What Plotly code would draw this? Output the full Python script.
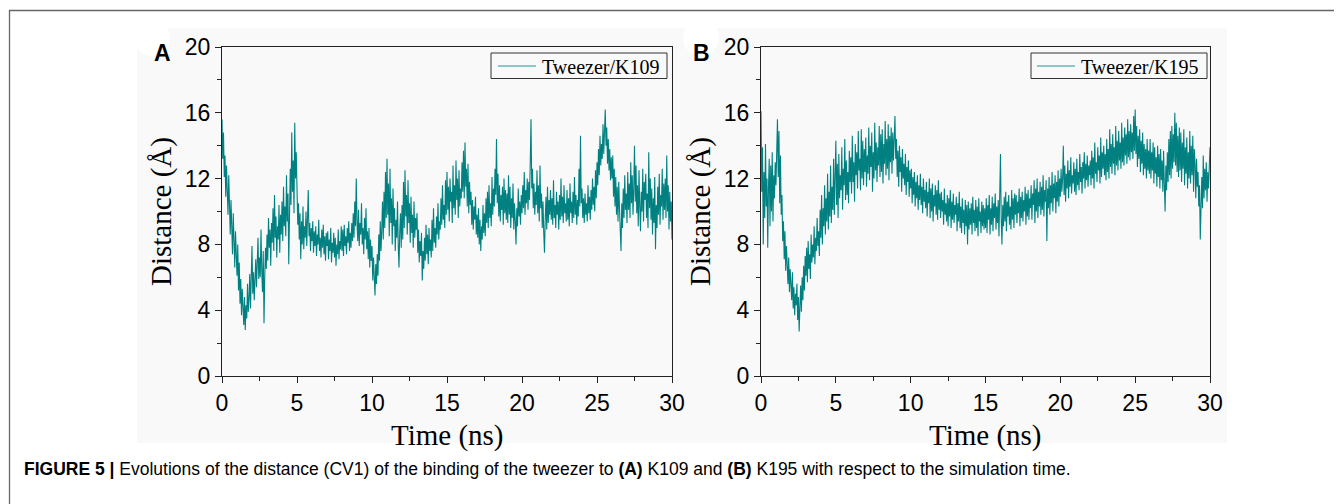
import plotly.graph_objects as go

W, H = 1342, 504
OFF = 8  # page body margin of the html page

# ---- data (0.05 ns steps, 0..30 ns) ----
dist_k109 = [
    15.6, 13.2, 14.8, 12.1, 13.4, 10.9, 12.8, 11.4, 9.8, 12.2, 10.1, 8.6, 10.7, 9.2, 7.4, 9.9, 8.1, 6.6, 8.8, 7.2,
    6.1, 8.0, 5.2, 6.9, 4.4, 5.9, 3.7, 5.3, 4.2, 3.1, 4.8, 2.8, 4.3, 3.5, 5.6, 3.9, 4.7, 6.2, 4.1, 5.4,
    7.9, 5.0, 6.3, 4.6, 5.8, 7.1, 5.4, 6.6, 8.4, 5.9, 7.2, 6.0, 8.9, 6.4, 5.1, 7.6, 3.2, 6.0, 7.8, 6.5,
    8.6, 7.0, 9.6, 7.8, 8.9, 6.7, 9.3, 8.1, 10.2, 7.6, 11.0, 8.4, 9.7, 7.2, 9.1, 8.3, 10.4, 7.5, 9.8, 8.6,
    10.6, 8.2, 11.5, 9.1, 10.3, 8.5, 12.2, 9.4, 11.1, 6.8, 9.7, 12.6, 10.4, 14.8, 11.2, 13.1, 9.9, 15.4, 12.0, 13.6,
    11.4, 9.2, 10.5, 8.3, 9.9, 7.1, 9.4, 8.0, 10.3, 7.7, 9.1, 8.4, 10.0, 7.9, 9.6, 11.3, 8.5, 9.3, 7.6, 9.0,
    8.2, 9.4, 7.5, 8.8, 7.9, 9.1, 7.3, 8.6, 8.0, 9.5, 7.6, 8.4, 7.2, 8.9, 7.8, 9.2, 7.4, 8.5, 7.0, 8.7,
    7.9, 8.8, 7.1, 8.3, 7.6, 9.0, 6.9, 8.1, 7.5, 8.7, 7.2, 8.4, 6.7, 8.0, 7.4, 8.9, 7.1, 8.2, 7.7, 9.1,
    7.6, 8.9, 7.3, 9.2, 7.9, 8.5, 7.4, 9.0, 8.1, 9.4, 7.6, 8.7, 7.8, 9.3, 8.2, 9.9, 8.4, 10.6, 9.1, 12.0,
    9.4, 8.2, 10.1, 7.9, 9.3, 8.6, 10.5, 8.0, 9.0, 7.4, 9.6, 8.3, 10.2, 7.7, 8.8, 7.1, 9.0, 6.6, 8.3, 7.0,
    7.9, 5.8, 7.2, 6.3, 4.9, 6.8, 5.6, 7.4, 6.1, 8.6, 7.0, 9.4, 7.6, 8.9, 10.6, 8.3, 11.2, 9.0, 12.4, 9.6,
    13.2, 9.8, 11.7, 8.5, 12.6, 9.3, 10.8, 8.0, 11.4, 9.1, 10.2, 7.6, 9.5, 8.4, 10.6, 7.9, 6.6, 8.8, 9.9, 7.8,
    10.4, 8.3, 11.8, 9.0, 12.5, 9.7, 11.0, 8.6, 11.9, 9.3, 10.5, 8.1, 10.9, 8.7, 9.8, 7.8, 10.6, 8.4, 9.6, 8.9,
    9.9, 7.5, 8.9, 6.9, 8.2, 7.3, 8.7, 5.8, 7.6, 6.5, 8.4, 7.0, 9.2, 7.4, 8.6, 6.8, 9.0, 7.6, 8.3, 7.2,
    9.5, 7.6, 10.2, 8.1, 9.0, 7.8, 9.7, 8.6, 10.5, 8.3, 9.4, 8.9, 10.8, 9.2, 11.6, 9.5, 10.4, 9.0, 11.9, 9.8,
    12.4, 10.1, 11.5, 9.4, 12.0, 10.6, 11.2, 9.3, 12.8, 10.2, 11.6, 9.8, 13.1, 10.7, 12.0, 9.6, 12.5, 10.3, 11.4, 10.8,
    13.0, 11.2, 13.7, 10.8, 14.2, 11.5, 12.6, 10.3, 12.9, 9.9, 11.8, 10.4, 11.2, 9.2, 10.7, 8.9, 10.3, 9.5, 10.9, 8.6,
    9.8, 8.4, 10.2, 8.0, 9.5, 7.6, 9.1, 8.3, 10.4, 8.7, 9.9, 8.5, 10.8, 9.3, 11.2, 9.0, 11.6, 9.6, 10.5, 9.1,
    12.1, 9.8, 11.4, 10.3, 12.6, 11.0, 14.4, 10.5, 12.3, 9.7, 11.6, 9.4, 11.0, 10.1, 11.5, 9.2, 12.0, 9.9, 11.3, 9.5,
    11.1, 9.3, 12.2, 9.8, 11.5, 9.0, 10.8, 9.6, 11.7, 8.9, 10.5, 9.4, 8.0, 10.2, 9.1, 11.4, 9.7, 10.6, 9.2, 11.0,
    9.9, 11.6, 10.2, 12.4, 9.8, 11.3, 10.5, 12.0, 10.1, 11.8, 10.7, 13.0, 15.6, 11.4, 12.6, 10.2, 11.7, 9.8, 11.2, 10.4,
    12.5, 9.9, 11.6, 9.4, 12.8, 10.2, 11.1, 9.0, 10.6, 8.7, 7.5, 9.6, 10.9, 8.9, 11.5, 9.3, 10.7, 9.8, 11.3, 9.5,
    10.8, 9.2, 11.9, 9.6, 10.4, 9.0, 11.2, 9.8, 10.6, 8.9, 11.0, 9.5, 12.0, 9.7, 10.9, 9.3, 11.6, 9.9, 10.5, 9.4,
    11.3, 9.5, 10.8, 9.1, 11.7, 9.9, 10.6, 9.3, 11.2, 9.6, 12.1, 9.8, 11.0, 9.2, 10.7, 9.7, 12.6, 10.3, 14.6, 10.5,
    11.4, 9.6, 10.8, 9.3, 11.1, 9.8, 10.5, 9.4, 11.6, 9.9, 10.9, 9.5, 11.3, 10.1, 12.0, 10.4, 11.5, 10.0, 12.5, 10.8,
    13.0, 11.6, 13.8, 12.2, 14.6, 12.8, 14.1, 13.2, 15.3, 13.5, 14.7, 16.2, 14.0, 15.1, 12.9, 14.4, 12.5, 13.8, 11.9, 13.3,
    12.0, 13.4, 10.9, 12.6, 10.3, 12.1, 9.8, 11.5, 9.4, 11.8, 10.2, 8.6, 7.6, 10.5, 9.0, 11.4, 9.6, 12.2, 10.1, 11.1,
    9.3, 12.4, 10.1, 11.7, 9.6, 13.0, 10.5, 12.2, 9.8, 11.4, 14.0, 10.6, 12.8, 9.9, 11.6, 9.1, 12.5, 10.3, 8.8, 11.2,
    10.0, 12.6, 9.4, 11.8, 10.7, 12.3, 9.6, 11.1, 9.0, 13.6, 10.2, 12.0, 9.5, 11.4, 8.6, 10.8, 9.3, 12.1, 7.7, 10.4,
    9.0, 11.5, 9.8, 12.3, 9.2, 11.0, 10.3, 12.6, 9.5, 11.7, 10.1, 12.0, 9.6, 13.4, 10.0, 11.6, 8.9, 11.2, 9.4, 10.6,
    8.3,
]

dist_k195 = [
    16.1, 11.2, 13.9, 8.0, 12.4, 9.6, 14.1, 10.3, 12.0, 7.8, 11.5, 13.2, 9.1, 12.8, 10.0, 13.6, 9.4, 12.2, 10.8, 13.0,
    11.6, 14.3, 15.6, 12.1, 14.9, 10.5, 13.4, 9.8, 11.0, 8.2, 9.4, 7.1, 8.8, 6.4, 7.9, 6.8, 5.6, 7.2, 5.1, 6.5,
    5.8, 4.6, 6.3, 4.1, 5.4, 3.7, 5.0, 4.3, 5.6, 3.4, 4.8, 2.7, 4.2, 5.5, 3.9, 6.0, 4.6, 6.7, 5.2, 7.3,
    6.1, 7.8, 5.7, 8.2, 6.5, 7.4, 5.9, 8.6, 6.9, 8.0, 7.2, 9.1, 6.8, 8.4, 7.6, 9.6, 7.9, 8.8, 7.3, 10.1,
    8.4, 11.0, 8.0, 10.2, 9.1, 11.6, 8.6, 10.8, 9.4, 12.3, 8.9, 11.2, 9.7, 12.8, 9.3, 11.5, 10.1, 13.2, 9.8, 12.4,
    14.3, 10.4, 12.9, 9.6, 13.5, 10.8, 12.2, 11.3, 13.9, 10.1, 12.6, 11.6, 14.4, 10.7, 13.1, 11.0, 12.4, 10.5, 13.7, 11.8,
    13.3, 11.1, 14.6, 11.8, 13.0, 10.6, 14.1, 12.2, 13.6, 11.4, 14.9, 12.5, 13.2, 11.3, 15.0, 12.0, 14.3, 11.6, 13.8, 12.4,
    14.5, 11.5, 13.4, 12.3, 15.1, 11.9, 14.0, 12.7, 14.8, 11.2, 13.6, 12.0, 15.4, 12.5, 14.2, 11.8, 13.9, 12.8, 15.2, 12.1,
    14.7, 12.4, 15.0, 11.7, 14.1, 12.9, 15.5, 12.2, 14.4, 12.6, 15.3, 11.9, 14.6, 13.0, 15.1, 12.3, 14.8, 13.1, 15.4, 15.8,
    13.2, 14.4, 12.1, 13.7, 11.5, 14.0, 12.4, 13.3, 11.2, 13.8, 12.0, 12.9, 11.6, 13.5, 11.0, 12.7, 11.8, 13.1, 10.9, 12.5,
    11.4, 12.6, 10.5, 12.1, 11.0, 12.4, 10.3, 11.8, 10.8, 12.2, 10.1, 11.6, 10.7, 12.3, 10.4, 11.5, 9.9, 12.0, 10.6, 11.3,
    10.2, 11.8, 9.7, 11.2, 10.5, 12.0, 9.6, 11.4, 10.0, 11.7, 9.4, 11.0, 10.3, 11.6, 9.8, 11.3, 9.5, 11.9, 10.1, 11.1,
    9.6, 11.2, 10.0, 10.7, 9.2, 11.4, 9.8, 10.5, 9.4, 11.0, 9.1, 10.8, 9.7, 11.3, 9.0, 10.6, 9.5, 11.1, 9.3, 10.4,
    9.8, 10.9, 8.8, 10.5, 9.4, 11.2, 9.0, 10.3, 8.7, 10.8, 9.3, 10.1, 8.6, 10.7, 9.1, 10.4, 8.0, 10.6, 8.9, 10.2,
    9.2, 10.5, 8.6, 10.9, 9.3, 10.1, 8.8, 10.7, 9.0, 10.3, 8.5, 10.8, 9.4, 10.0, 8.7, 10.6, 9.1, 10.4, 8.9, 10.2,
    9.0, 10.8, 8.7, 10.4, 9.5, 11.0, 8.6, 10.2, 9.2, 10.9, 8.8, 10.5, 9.6, 11.1, 8.9, 10.3, 9.3, 10.7, 8.5, 10.6,
    13.5, 9.6, 8.0, 10.4, 9.1, 10.9, 9.4, 11.2, 8.8, 10.6, 9.7, 11.0, 9.2, 10.3, 8.9, 11.3, 9.5, 10.8, 9.0, 11.1,
    9.8, 11.0, 9.3, 10.6, 9.9, 11.4, 9.1, 10.9, 9.6, 11.2, 9.4, 10.7, 10.0, 11.5, 9.2, 11.1, 9.7, 11.3, 9.5, 10.8,
    10.2, 11.6, 9.5, 11.1, 10.4, 11.9, 9.3, 11.4, 10.0, 12.0, 9.6, 11.2, 10.3, 11.8, 9.8, 11.5, 10.1, 12.2, 9.7, 11.3,
    10.6, 11.9, 8.2, 11.4, 10.2, 12.1, 9.8, 11.6, 10.5, 12.4, 10.0, 11.7, 10.8, 12.2, 9.9, 11.8, 10.6, 12.5, 10.3, 12.0,
    10.9, 12.6, 11.2, 12.0, 14.0, 11.0, 12.8, 10.6, 12.3, 11.4, 13.1, 10.8, 12.5, 11.5, 13.3, 11.1, 12.2, 11.7, 13.0, 11.2,
    12.6, 11.0, 13.2, 11.6, 12.4, 11.3, 13.5, 11.8, 12.7, 11.1, 13.0, 12.0, 13.6, 11.4, 12.9, 11.9, 13.4, 11.5, 12.8, 12.2,
    13.1, 11.6, 13.7, 12.0, 13.3, 11.4, 14.2, 12.3, 13.0, 11.8, 13.9, 12.5, 13.4, 11.7, 14.5, 12.1, 13.6, 12.6, 14.0, 12.2,
    13.5, 11.9, 14.4, 12.4, 13.8, 12.0, 15.0, 12.7, 14.1, 12.3, 14.7, 12.9, 13.9, 12.2, 15.2, 12.8, 14.3, 12.5, 14.9, 13.1,
    14.2, 12.6, 15.4, 13.0, 14.5, 12.8, 15.1, 13.4, 14.7, 12.9, 15.6, 13.3, 14.9, 13.1, 15.3, 13.6, 14.8, 13.2, 15.8, 13.7,
    16.2, 13.5, 15.2, 12.7, 14.6, 13.2, 15.0, 12.4, 14.3, 12.9, 14.8, 12.2, 14.1, 12.6, 13.8, 12.0, 14.4, 12.5, 13.7, 12.3,
    14.4, 12.0, 13.6, 12.5, 14.2, 11.7, 13.9, 12.3, 13.3, 11.5, 14.0, 12.1, 13.5, 11.4, 13.8, 11.9, 13.1, 11.2, 13.7, 11.6,
    10.0, 12.8, 11.3, 13.6, 11.8, 14.4, 12.2, 14.9, 12.0, 15.2, 12.6, 14.7, 13.0, 16.0, 12.8, 15.4, 12.4, 14.6, 12.1, 15.1,
    12.5, 14.8, 11.8, 14.2, 12.6, 15.0, 11.6, 13.9, 12.3, 14.5, 11.4, 13.6, 12.0, 14.9, 11.7, 14.0, 12.2, 14.6, 11.2, 13.8,
    12.9, 10.8, 13.2, 11.5, 12.4, 10.3, 11.6, 8.3, 11.0, 12.1, 10.2, 13.4, 10.8, 12.6, 11.3, 13.0, 10.6, 12.4, 11.4, 13.6,
    13.9,
]

time_k109 = [30 * i / (len(dist_k109) - 1) for i in range(len(dist_k109))]
time_k195 = [30 * i / (len(dist_k195) - 1) for i in range(len(dist_k195))]

series_names = ["Tweezer/K109", "Tweezer/K195"]
x_ticks = [0, 5, 10, 15, 20, 25, 30]
y_ticks = [0, 4, 8, 12, 16, 20]
panel_labels = ["A", "B"]

LINE = "#008080"
BG = "#f9f9f9"


def px(x):
    return (x - OFF) / W


def py(y):
    return 1 - (y - OFF) / H


fig = go.Figure()
fig.add_trace(go.Scatter(x=time_k109, y=dist_k109, mode="lines", name=series_names[0],
                         line=dict(color=LINE, width=1.1), xaxis="x", yaxis="y"))
fig.add_trace(go.Scatter(x=time_k195, y=dist_k195, mode="lines", name=series_names[1],
                         line=dict(color=LINE, width=1.1), xaxis="x2", yaxis="y2"))

tickfont = dict(family="Liberation Sans, Arial", size=23, color="black")
titlefont = dict(family="Liberation Serif, Times New Roman", size=29, color="black")

def xax(domain, anchor):
    return dict(domain=domain, anchor=anchor, range=[0, 30], tickvals=x_ticks, automargin=False,
                showline=True, linecolor="#222", linewidth=1.2, mirror=True,
                ticks="outside", ticklen=6, tickcolor="#222", showgrid=False, zeroline=False,
                minor=dict(ticks="outside", ticklen=4, dtick=2.5, tick0=0, tickcolor="#222", showgrid=False),
                tickfont=tickfont)

def yax(domain, anchor):
    return dict(domain=domain, anchor=anchor, range=[0, 20], tickvals=y_ticks, automargin=False,
                showline=True, linecolor="#222", linewidth=1.2, mirror=True,
                ticks="outside", ticklen=6, tickcolor="#222", showgrid=False, zeroline=False,
                minor=dict(ticks="outside", ticklen=4, dtick=2, tick0=0, tickcolor="#222", showgrid=False),
                tickfont=tickfont,
                title=dict(text="Distance (Å)", font=titlefont, standoff=4))

ydom = [py(376), py(47)]

fig.update_layout(
    width=W, height=H, margin=dict(l=0, r=0, t=0, b=0, pad=0, autoexpand=False),
    paper_bgcolor="white", plot_bgcolor=BG, showlegend=False,
    xaxis=xax([px(222), px(672)], "y"),
    yaxis=yax(ydom, "x"),
    xaxis2=xax([px(761), px(1210)], "y2"),
    yaxis2=yax(ydom, "x2"),
)

# legend boxes (box, sample line, text) per panel: [box_x0, box_x1, line_x0, line_x1, text_x0]
legend_geo = [(491, 667, 498, 536, 540), (1031, 1207, 1037, 1075, 1079)]

shapes = [
    dict(type="rect", xref="paper", yref="paper", x0=px(137), x1=px(1227), y0=py(443), y1=py(28),
         fillcolor=BG, line=dict(width=0), layer="below"),
    dict(type="circle", xref="paper", yref="paper", x0=px(134), x1=px(170), y0=py(56), y1=py(20),
         fillcolor="white", line=dict(width=0), layer="below"),
    dict(type="circle", xref="paper", yref="paper", x0=px(683), x1=px(719), y0=py(56), y1=py(20),
         fillcolor="white", line=dict(width=0), layer="below"),
    dict(type="line", xref="paper", yref="paper", x0=px(9), x1=1, y0=py(10.5), y1=py(10.5),
         line=dict(color="#666", width=1.3)),
    dict(type="line", xref="paper", yref="paper", x0=px(9.5), x1=px(9.5), y0=py(10), y1=0,
         line=dict(color="#666", width=1.3)),
]
annotations = []
for (bx0, bx1, lx0, lx1, tx0), name in zip(legend_geo, series_names):
    shapes.append(dict(type="rect", xref="paper", yref="paper", x0=px(bx0), x1=px(bx1),
                       y0=py(78.5), y1=py(53), fillcolor=BG, line=dict(color="#333", width=1)))
    shapes.append(dict(type="line", xref="paper", yref="paper", x0=px(lx0), x1=px(lx1),
                       y0=py(66), y1=py(66), line=dict(color="#1a9a98", width=1.2)))
    annotations.append(dict(text=name, x=px(tx0), y=py(66.5), xref="paper", yref="paper",
                            xanchor="left", yanchor="middle", showarrow=False,
                            font=dict(family="Liberation Serif, Times New Roman", size=20, color="black")))

for xa, xb in [(222, 672), (761, 1210)]:
    annotations.append(dict(text="Time (ns)", x=px((xa + xb) / 2), y=py(435), xref="paper", yref="paper",
                            xanchor="center", yanchor="middle", showarrow=False, font=titlefont))

fig.update_layout(shapes=shapes)

annotations += [
    dict(text="<b>%s</b>" % panel_labels[0], x=px(152), y=py(38), xref="paper", yref="paper",
         showarrow=False, font=dict(family="Liberation Sans, Arial", size=23, color="black")),
    dict(text="<b>%s</b>" % panel_labels[1], x=px(702), y=py(38), xref="paper", yref="paper",
         showarrow=False, font=dict(family="Liberation Sans, Arial", size=23, color="black")),
    dict(text="<b>FIGURE 5 |</b> Evolutions of the distance (CV1) of the binding of the tweezer to "
              "<b>(A)</b> K109 and <b>(B)</b> K195 with respect to the simulation time.",
         x=px(22), y=py(469), xref="paper", yref="paper", xanchor="left", yanchor="middle",
         showarrow=False, font=dict(family="Liberation Sans, Arial", size=17.5, color="black")),
]
fig.update_layout(annotations=annotations)

fig.write_html("out.html")
